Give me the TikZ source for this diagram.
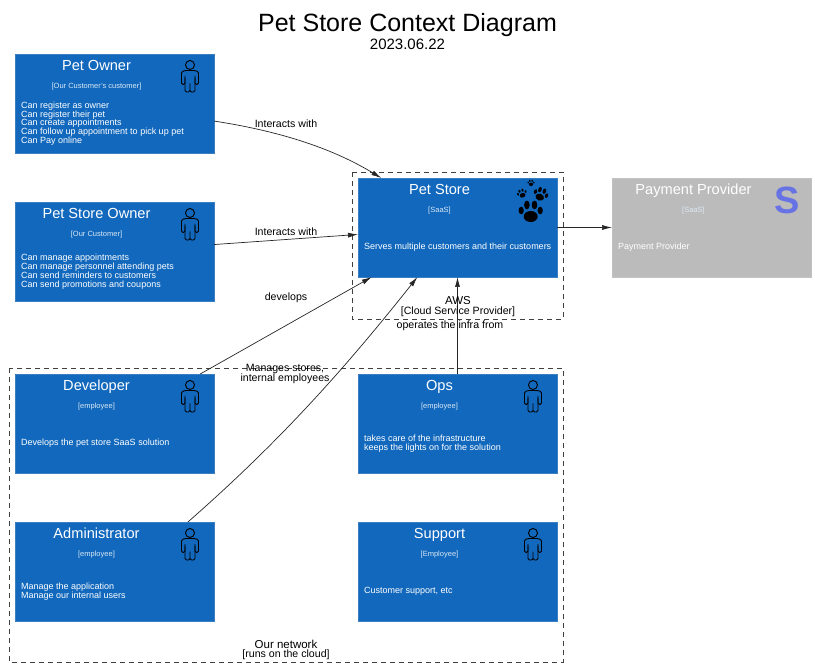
\documentclass[tikz,border=0pt]{standalone}
\usepackage{fontspec}
\setmainfont{Liberation Sans}
\usetikzlibrary{arrows.meta}
\definecolor{boxblue}{HTML}{1168BD}
\definecolor{boxedge}{HTML}{3C7FC0}
\definecolor{boxgray}{HTML}{BBBBBB}
\definecolor{stripeblue}{HTML}{6772E5}
\tikzset{
	ctxbox/.style={draw=boxedge, fill=boxblue, minimum width=199pt, minimum height=99pt, inner sep=0pt, outer sep=0pt},
	extbox/.style={ctxbox, draw=boxgray!90!white, fill=boxgray},
	ctxtitle/.style={text=white, inner sep=0pt, text height=10pt, text depth=3pt, font=\fontsize{14.6}{16}\selectfont},
	ctxtech/.style={text=white!85!boxblue, inner sep=0pt, text height=5.5pt, text depth=1.5pt, font=\fontsize{7.5}{8}\selectfont},
	ctxdesc/.style={text=white, inner sep=0pt, align=left, anchor=west, font=\fontsize{9}{8.8}\selectfont},
	grouplabel/.style={inner sep=0pt, align=center, font=\fontsize{11.5}{9.6}\selectfont},
	rellabel/.style={inner sep=0pt, align=center, font=\fontsize{10.6}{10.4}\selectfont},
	groupbox/.style={draw=black!75, dash pattern=on 5pt off 4pt, line width=0.7pt},
	rel/.style={draw=black!85, line width=0.7pt, -{Latex[length=10pt,width=5pt]}},
	person/.style={draw=black, line width=0.9pt, rounded corners=1.5pt},
}
% box with title, technology line and description
\newcommand{\ctxnode}[7]{
	\node[#1] (#2) at (#3,#4) {};
	\node[ctxtitle] (#2title) at ([xshift=-18pt,yshift=-13pt]#2.north) {#5};
	\node[ctxtech] (#2tech) at ([xshift=-18pt,yshift=-32.5pt]#2.north) {#6};
	\node[ctxdesc] (#2desc) at ([xshift=6pt,yshift=-69.5pt]#2.north west) {#7};
}
\newcommand{\personicon}[1]{
	\begin{scope}[shift={(#1.north west)}]
		\draw[line width=0.9pt] (175,11) circle (4.5);
		\draw[person] (171,16.5) -- (166.5,17.5) -- (166.5,30.5) -- (170,30.5) -- (170,22);
		\draw[person] (179,16.5) -- (183.5,17.5) -- (183.5,30.5) -- (180,30.5) -- (180,22);
		\draw[person] (171,16.5) -- (179,16.5);
		\draw[person] (170,24) -- (170,38) -- (175,38) -- (175,28) -- (175,38) -- (180,38) -- (180,24);
	\end{scope}
}
\newcommand{\pawprint}[4]{
	\begin{scope}[shift={(#1,#2)}, scale=#3, rotate=#4]
		\fill (0,4.5) ellipse [x radius=7, y radius=5.5];
		\fill (-9.5,-1.5) ellipse [x radius=2.6, y radius=3.8];
		\fill (-3.8,-7) ellipse [x radius=2.8, y radius=4.4];
		\fill (3.8,-7) ellipse [x radius=2.8, y radius=4.4];
		\fill (9.5,-1.5) ellipse [x radius=2.6, y radius=3.8];
	\end{scope}
}
\begin{document}
\begin{tikzpicture}[x=1pt, y=-1pt]
	\useasboundingbox (0,0) rectangle (815,671);

	\node[inner sep=0pt, font=\fontsize{25}{28}\selectfont] (title) at (407.5,25.5) {Pet Store Context Diagram};
	\node[inner sep=0pt, font=\fontsize{15}{16}\selectfont] (date) at (407.5,44) {2023.06.22};

	\draw[groupbox] (352,172) rectangle (563,319);
	\draw[groupbox] (9,368) rectangle (563,662);

	\ctxnode{ctxbox}{owner}{114.5}{103.5}{Pet Owner}{[Our Customer's customer]}{Can register as owner\\Can register their pet\\Can create appointments\\Can follow up appointment to pick up pet\\Can Pay online}
	\ctxnode{ctxbox}{storeowner}{114.5}{251.5}{Pet Store Owner}{[Our Customer]}{Can manage appointments\\Can manage personnel attending pets\\Can send reminders to customers\\Can send promotions and coupons}
	\ctxnode{ctxbox}{store}{457.5}{227.5}{Pet Store}{[SaaS]}{Serves multiple customers and their customers}
	\ctxnode{extbox}{payment}{711.5}{227.5}{Payment Provider}{[SaaS]}{Payment Provider}
	\ctxnode{ctxbox}{developer}{114.5}{423.5}{Developer}{[employee]}{Develops the pet store SaaS solution}
	\ctxnode{ctxbox}{ops}{457.5}{423.5}{Ops}{[employee]}{takes care of the infrastructure\\keeps the lights on for the solution}
	\ctxnode{ctxbox}{admin}{114.5}{571.5}{Administrator}{[employee]}{Manage the application\\Manage our internal users}
	\ctxnode{ctxbox}{support}{457.5}{571.5}{Support}{[Employee]}{Customer support, etc}

	\personicon{owner}
	\personicon{storeowner}
	\personicon{developer}
	\personicon{ops}
	\personicon{admin}
	\personicon{support}

	\pawprint{530.7}{212}{1}{0}
	\pawprint{540.7}{194.5}{0.62}{-20}
	\pawprint{522}{193.5}{0.42}{20}
	\pawprint{531}{183}{0.3}{0}
	\node[inner sep=0pt, text=stripeblue, font=\fontsize{38}{38}\selectfont\bfseries] (stripe) at (787,200.5) {S};

	\path[rel] (owner.-10) .. controls (285,132) and (335,150) .. (store.147.4);
	\path[rel] (storeowner.4.3) -- (store.184.3);
	\path[rel] (developer.30) -- (store.210);
	\path[rel] (admin.34.7) .. controls (285,437) and (350,362) .. (store.231.4);
	\path[rel] (ops.north) -- (store.south);
	\path[rel] (store.east) -- (payment.west);

	\node[rellabel] (interactsa) at (286,123.5) {Interacts with};
	\node[rellabel] (interactsb) at (286,231.5) {Interacts with};
	\node[rellabel] (develops) at (286,297.5) {develops};
	\node[rellabel] (manages) at (285,374) {Manages stores,\\internal employees};
	\node[rellabel] (operates) at (450,325.5) {operates the infra from};

	\node[grouplabel] (aws) at (458,306.5) {AWS\\{\fontsize{10.6}{10}\selectfont [Cloud Service Provider]}};
	\node[grouplabel] (network) at (286,650) {Our network\\{\fontsize{10.6}{10}\selectfont [runs on the cloud]}};
\end{tikzpicture}
\end{document}
